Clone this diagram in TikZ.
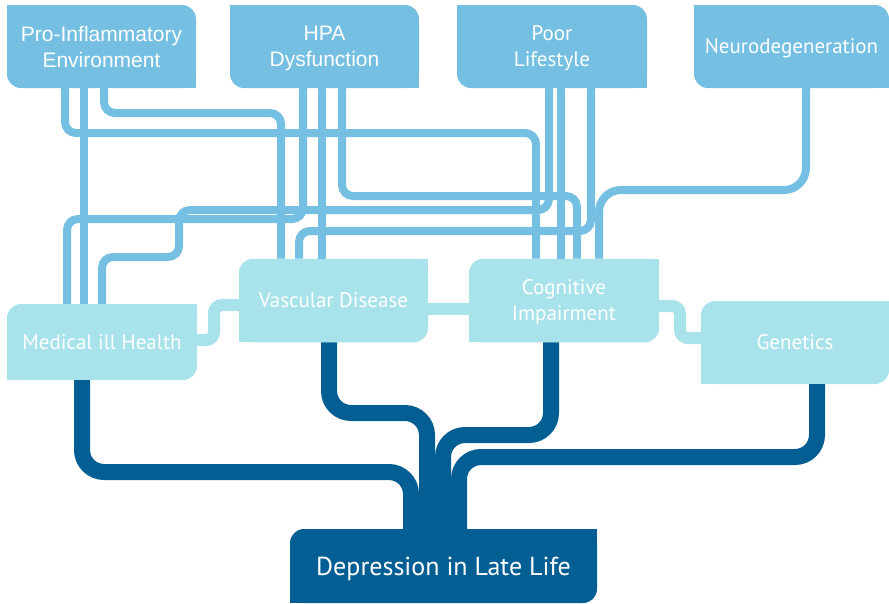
\documentclass[tikz,border=0pt]{standalone}
\usepackage{fontspec}
\setmainfont{PT Sans}
\newfontfamily\arialfont{Liberation Sans}
\definecolor{topc}{HTML}{74BFE2}
\definecolor{midc}{HTML}{A8E3EB}
\definecolor{darkc}{HTML}{035F93}
\begin{document}
\begin{tikzpicture}[x=1pt, y=-1pt,
    box/.style={text=white, align=center, inner sep=0pt, rounded corners=14pt,
      text depth=-3pt, font=\fontsize{21}{26}\selectfont},
    topbox/.style={box, fill=topc, minimum width=189pt, minimum height=83pt},
    midbox/.style={box, fill=midc, minimum width=189pt, minimum height=83pt},
    rootbox/.style={box, fill=darkc, minimum width=307pt, minimum height=74pt,
      text depth=0pt, font=\fontsize{26}{30}\selectfont},
    lite/.style={draw=topc, line width=8pt, rounded corners=11pt},
    midlink/.style={draw=midc, line width=12pt, rounded corners=8pt},
    dark/.style={draw=darkc, line width=16pt, rounded corners=22pt}]
  \useasboundingbox (0,0) rectangle (889,603);

  % risk factors
  \node[topbox, font=\arialfont\fontsize{21}{26}\selectfont] (pie) at (101.5,46.5) {Pro-Inflammatory\\Environment};
  \node[topbox, font=\arialfont\fontsize{21}{26}\selectfont] (hpa) at (324.5,46.5) {HPA\\Dysfunction};
  \node[topbox, minimum width=190pt] (pl) at (552,46.5) {Poor\\Lifestyle};
  \node[topbox, minimum width=195pt] (nd) at (791.5,46.5) {Neurodegeneration};

  % intermediate conditions
  \node[midbox, minimum width=190pt, minimum height=76pt] (med) at (102,342) {Medical ill Health};
  \node[midbox, minimum height=83.5pt] (vas) at (333.5,300.5) {Vascular Disease};
  \node[midbox, minimum width=190pt, minimum height=83.5pt] (cog) at (564,300.5) {Cognitive\\Impairment};
  \node[midbox, minimum width=188pt] (gen) at (795,342.5) {Genetics};

  \node[rootbox] (dep) at (443.5,566) {Depression in Late Life};

  % square off the corners that are not rounded
  \foreach \n in {pie,hpa,pl,nd}{
    \fill[topc] (\n.north west) rectangle ++(15,15);
    \fill[topc] (\n.south east) rectangle ++(-15,-15);
  }
  \foreach \n/\c in {med/midc,vas/midc,cog/midc,gen/midc,dep/darkc}{
    \fill[\c] (\n.north east) rectangle ++(-15,15);
    \fill[\c] (\n.south west) rectangle ++(15,-15);
  }

  % links from the top row
  \draw[lite] ([xshift=-17.5pt]pie.south) -- ([xshift=-18pt]med.north);
  \draw[lite] ([xshift=-36.5pt]pie.south) |- (536,133) -- ([xshift=-28pt]cog.north);
  \draw[lite] ([xshift=2.5pt]pie.south) |- (281,113) -- ([xshift=-52.5pt]vas.north);
  \draw[lite] ([xshift=-21.5pt]hpa.south) |- (67,219) -- ([xshift=-35pt]med.north);
  \draw[lite] ([xshift=-2.5pt]hpa.south) -- ([xshift=-11.5pt]vas.north);
  \draw[lite] ([xshift=17.5pt]hpa.south) |- (577,196) -- ([xshift=13pt]cog.north);
  \draw[lite] ([xshift=-3pt]pl.south) |- (179,210) |- (102,257) -- (med.north);
  \draw[lite] ([xshift=9pt]pl.south) -- ([xshift=-3pt]cog.north);
  \draw[lite] ([xshift=39pt]pl.south) |- (299,231) -- ([xshift=-34.5pt]vas.north);
  \draw[lite, rounded corners=22pt] ([xshift=14.5pt]nd.south) |- (599,190) -- ([xshift=35pt]cog.north);

  % links in the middle row
  \draw[midlink] ([yshift=2pt]med.east) -| (214,305) -- ([yshift=-4.5pt]vas.west);
  \draw[midlink] ([yshift=-8.5pt]vas.east) -- ([yshift=-8.5pt]cog.west);
  \draw[midlink] ([yshift=-5.5pt]cog.east) -| (680,338) -- ([yshift=4.5pt]gen.west);

  % links down to depression
  \draw[dark] ([xshift=-20pt]med.south) |- (411,472) -- ([xshift=-32.5pt]dep.north);
  \draw[dark] ([xshift=-4.5pt]vas.south) |- (427,413) -- ([xshift=-16.5pt]dep.north);
  \draw[dark] ([xshift=-13pt]cog.south) |- (443,435) -- ([xshift=-0.5pt]dep.north);
  \draw[dark] ([xshift=22pt]gen.south) |- (459,457) -- ([xshift=15.5pt]dep.north);
\end{tikzpicture}
\end{document}
